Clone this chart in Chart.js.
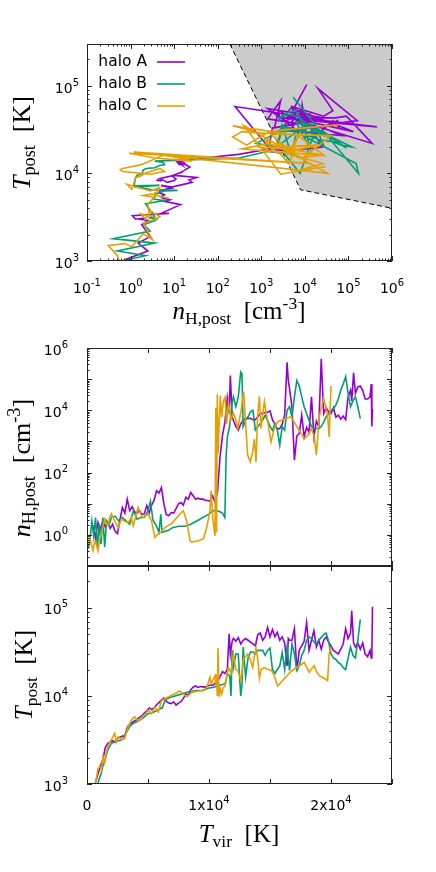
<!DOCTYPE html>
<html>
<head>
<meta charset="utf-8">
<script src="https://cdn.jsdelivr.net/npm/chart.js@4.4.1/dist/chart.umd.min.js"></script>
<style>
html,body{margin:0;padding:0;background:#fff;}
body{width:436px;height:872px;position:relative;overflow:hidden;}
canvas{position:absolute;left:0;}
.ttl{position:absolute;font-family:'Liberation Serif','Times New Roman',serif;font-size:25px;line-height:1;white-space:nowrap;color:#000;}
.ttl sub{font-size:70%;vertical-align:-0.3em;line-height:0;}
.ttl sup{font-size:70%;vertical-align:0.55em;line-height:0;}
.rot{transform:translate(-50%,-50%) rotate(-90deg);}
.hor{transform:translate(-50%,-50%);}
</style>
</head>
<body>
<canvas id="c1" width="436" height="330" style="top:0px"></canvas>
<canvas id="c2" width="436" height="240" style="top:330px"></canvas>
<canvas id="c3" width="436" height="312" style="top:560px"></canvas>

<div class="ttl rot" style="left:22px;top:143px;font-size:26px"><i>T</i><sub>post</sub>&nbsp;&nbsp;[K]</div>
<div class="ttl hor" style="left:239px;top:310px"><i>n</i><sub>H,post</sub>&nbsp;&nbsp;[cm<sup>-3</sup>]</div>
<div class="ttl rot" style="left:22px;top:468px;font-size:26px"><i>n</i><sub>H,post</sub>&nbsp;&nbsp;[cm<sup>-3</sup>]</div>
<div class="ttl rot" style="left:23px;top:675px"><i>T</i><sub>post</sub>&nbsp;&nbsp;[K]</div>
<div class="ttl hor" style="left:239px;top:833px"><i>T</i><sub>vir</sub>&nbsp;&nbsp;[K]</div>

<script>
// halo A : Tvir [K], nH,post [cm^-3], Tpost [K]
const tvirA = [500,700,900,1100,1300,1500,1700,1900,2100,2300,2500,2700,2900,3100,3300,3500,3700,3900,4100,4300,
  4500,4700,4900,5100,5300,5500,5700,5900,6100,6300,6500,6700,6900,7100,7300,7500,7700,7900,8100,8300,
  8500,8700,8900,9100,9300,9500,9700,9900,10100,10300,10500,10700,10900,11100,11300,11500,11650,11750,11900,12000,
  12200,12400,12600,12800,13000,13200,13400,13600,13800,14000,14200,14400,14600,14800,15000,15200,15400,15600,15800,16000,
  16200,16400,16500,16600,16800,17000,17200,17400,17600,17800,18000,18200,18400,18600,18800,19000,19200,19400,19600,19800,
  20000,20200,20400,20600,20800,21000,21200,21400,21600,21700,21850,22000,22200,22400,22600,22800,23000,23200,23300,23350,23400];
const nA = [2.0,0.8,2.5,1.5,2.8,1.8,2.5,1.6,2.2,1.3,1.1,3.0,7.6,5.0,14,6,8,5.5,5.0,6,
  4.5,4.8,8.7,5,9,13,26,22,33,10,4.5,4.1,5.2,5.0,7,10,11,9,16,14,
  23,18,14,15,14,14,13,12.6,12,18,11,25,300,1500,4000,2.5e4,8000,1.3e5,6000,4800,
  3000,2300,3600,4800,5500,5500,5500,5000,5000,6200,7800,8000,8500,8700,9500,5000,3600,2500,2600,3600,
  7000,3.5e5,9e4,5e4,1.3e4,250,1500,1800,7000,1400,2800,2000,2.7e4,1400,4500,3000,4.5e5,7800,1.2e4,9000,
  7800,1.2e4,6000,7000,5200,6500,5000,2.7e4,4.4e4,2e4,1.6e5,3.5e4,5.6e4,6e4,4.4e4,2.3e4,2.3e4,2.7e4,7e4,3000,1.1e4];
const tA = [900,1050,1300,1600,1900,2600,2900,3000,3100,3000,3300,3400,3500,3500,4400,4800,5000,5200,5400,5700,
  6000,6400,6800,7300,7000,7300,7900,8400,9000,9500,8700,8300,8200,8600,7900,8300,8600,9400,10500,10200,
  11800,12600,13000,12500,12800,12700,12600,13000,13300,13200,14000,14500,16500,19000,18000,20000,51000,30000,42000,45000,
  42000,46000,39000,43000,45000,43000,41000,39000,37000,50000,52000,43000,47000,60000,47000,57000,47000,53000,43000,47000,
  40000,22000,45000,43000,43000,58000,19500,33000,37000,42000,68000,33000,43000,55000,36000,43000,34000,43000,47000,41000,
  37000,33000,31600,30000,34000,39000,58000,45000,52000,93000,40000,36000,40000,34000,40000,30000,28000,33000,27000,31000,103000];

// halo B
const tvirB = [0,200,400,550,700,850,1000,1150,1300,1450,1600,1800,2000,2300,2600,2900,3200,3500,3800,4100,
  4400,4700,5000,5200,5400,5700,5900,6050,6150,6400,6700,7000,7500,8000,8500,9000,9500,10000,10300,10600,
  10900,11100,11300,11400,11500,11700,11800,11900,12000,12200,12400,12600,12700,12800,13000,13200,13400,13600,13800,14000,
  14200,14400,14600,14800,15000,15200,15400,15600,15800,16000,16200,16400,16600,16800,17000,17200,17400,17600,17800,18000,
  18200,18400,18600,18800,19000,19200,19400,19600,19800,20000,20200,20400,20600,20800,21000,21200,21400,21600,21800,22000,22200,22400];
const nB = [0.33,0.5,2.8,0.9,3.6,0.4,2.2,0.5,3.6,0.4,2.8,2.0,3.6,4.0,2.8,3.6,2.8,2.2,6,3.2,
  3.6,3.6,6,12,3.0,1.9,1.2,4.6,1.2,1.3,1.4,1.7,1.9,1.9,2.2,2.8,3.6,4.6,6,6,
  5.5,5,3.6,310,1350,3300,7800,1.8e4,2.7e4,1.3e4,2.7e4,1.7e5,1.5e5,3000,4800,6200,9000,1e4,2300,3000,
  3700,4800,6900,4800,3000,2300,3700,2300,760,3000,2300,1e4,1.3e4,6200,2.7e4,9e4,6e4,2.7e4,1.3e4,7800,
  4800,3000,2600,2600,2600,3000,4200,6200,7800,1e4,1.1e4,1.5e4,2.3e4,4.4e4,7e4,1.2e5,3.5e4,1.3e4,2e4,2.7e4,1.3e4,5400];
const tB = [500,600,700,800,900,950,1150,1300,1600,1800,2200,2600,2900,3000,3100,3200,3800,4500,4900,5100,
  5400,5800,6300,6400,6500,6800,7000,7300,7200,8900,9500,9800,10300,10800,11300,11500,11600,12300,12500,12800,
  13300,13500,13800,15000,17800,17000,10000,33000,21000,30000,30000,10000,13000,36000,16500,27000,31600,31600,30000,33000,
  33000,33000,29000,33000,35000,20000,18000,20000,22000,31000,20000,36000,19500,39000,30000,19500,22000,29000,33000,43000,
  47000,45000,41000,39000,43000,46000,50000,52000,42000,30000,27000,26000,24000,23000,21000,20000,27000,36000,29000,27000,43000,74000];

// halo C
const tvirC = [80,220,360,490,630,770,900,1040,1180,1320,1450,1590,1730,1860,2000,2270,2400,2550,2820,3100,
  3370,3640,3780,3920,4190,4470,4600,4740,5010,5290,5560,5840,6110,6380,6930,7620,7890,8170,8440,8580,
  9120,9540,9810,10080,10170,10300,10490,10560,10620,10680,10740,10820,10930,11040,11180,11320,11450,11590,11800,12000,
  12200,12350,12620,12840,13030,13170,13390,13580,13720,13850,13990,14130,14260,14540,14810,15080,15350,15630,16720,17810,
  18220,18360,18630,18800,19040,19400,19720,19850,20000];
const nC = [0.5,0.83,0.5,0.31,0.58,0.5,0.31,0.74,1.07,1.95,3.2,2.3,2.0,3.6,4.7,2.8,2.2,1.7,3.2,2.7,
  2.5,3.6,1.95,3.0,7.6,4.0,3.6,4.0,4.7,2.8,0.83,1.07,1.3,1.7,2.3,4.7,6.0,2.8,0.65,0.58,
  0.65,0.74,1.7,6.0,26,3.6,0.93,1.2e4,1.2,3.3e4,400,2800,3e4,5900,2e4,2.6e4,3600,1.8e4,5000,8000,
  5000,2600,9000,4e4,2600,360,220,460,1200,220,7000,2.8e4,2600,1.9e4,4300,950,2600,4300,6200,1200,
  1800,2600,1500,360,6200,2.4e4,7000,1400,6e4];
const tC = [500,600,700,800,950,1150,1500,1580,1450,2050,1750,2300,2700,3000,3200,3750,3000,3450,3200,3300,
  4500,5300,5600,5800,5200,5600,6000,6100,6900,6300,7500,6600,8900,9300,10200,11400,10500,9800,10500,11000,
  11400,11500,12500,16300,13800,15000,17000,13000,17500,10000,35000,9800,12000,10500,12500,13000,17000,21000,18000,30000,
  20000,19600,15000,27000,28000,30000,26000,21000,28000,35000,27000,16000,20000,21000,20000,19800,17000,13000,19000,24000,
  18600,20000,22000,19000,17000,16000,15000,30000,36000];

// shaded region boundary (top panel)
const regionN = [190, 8000, 1e6];
const regionT = [3e5, 6500, 4000];

const haloNames = ['halo A', 'halo B', 'halo C'];
const haloColors = ['#9400d3', '#009e73', '#e69f00'];

// tick labels
const topXTicks = [0.1, 1, 10, 100, 1e3, 1e4, 1e5, 1e6];
const topXExps = ['-1', '0', '1', '2', '3', '4', '5', '6'];
const topYTicks = [1e3, 1e4, 1e5];
const topYExps = ['3', '4', '5'];
const midYMajor = [0.1, 1, 10, 100, 1e3, 1e4, 1e5, 1e6];
const midYTicks = [1, 100, 1e4, 1e6];
const midYExps = ['0', '2', '4', '6'];
const tvirTicks = [0, 5000, 10000, 15000, 20000, 25000];
const botXTicks = [0, 10000, 20000];
const botXBase = ['0', '1x10', '2x10'];
const botXExps = ['', '4', '4'];
const botYTicks = [1e3, 1e4, 1e5];
const botYExps = ['3', '4', '5'];

const SANS = "'DejaVu Sans', sans-serif";

function minorLog(lo, hi) {
  const out = [];
  for (let e = Math.floor(Math.log10(lo)); e <= Math.ceil(Math.log10(hi)); e++)
    for (let m = 2; m <= 9; m++) { const v = m * Math.pow(10, e); if (v > lo && v < hi) out.push(v); }
  return out;
}

function drawLabel(ctx, base, exp, x, y, align) {
  ctx.font = '14px ' + SANS;
  const wb = ctx.measureText(base).width;
  ctx.font = '10px ' + SANS;
  const we = exp ? ctx.measureText(exp).width : 0;
  const x0 = align === 'right' ? x - wb - we : x - (wb + we) / 2;
  ctx.font = '14px ' + SANS;
  ctx.fillText(base, x0, y);
  if (exp) { ctx.font = '10px ' + SANS; ctx.fillText(exp, x0 + wb, y - 7); }
}

// border, inward ticks, tick labels, legend
const framePlugin = {
  id: 'frame',
  afterDatasetsDraw(chart, args, o) {
    const { ctx, chartArea: a } = chart;
    const xs = chart.scales.x, ys = chart.scales.y;
    ctx.save();
    ctx.strokeStyle = '#222';
    ctx.lineWidth = 1;
    ctx.beginPath();
    const tx = (v, len) => { const p = Math.round(xs.getPixelForValue(v)) + 0.5;
      ctx.moveTo(p, a.bottom); ctx.lineTo(p, a.bottom - len); ctx.moveTo(p, a.top); ctx.lineTo(p, a.top + len); };
    const ty = (v, len) => { const p = Math.round(ys.getPixelForValue(v)) + 0.5;
      ctx.moveTo(a.left, p); ctx.lineTo(a.left + len, p); ctx.moveTo(a.right, p); ctx.lineTo(a.right - len, p); };
    o.xMajor.forEach(v => tx(v, 5));
    (o.xMinor || []).forEach(v => tx(v, 2.5));
    o.yMajor.forEach(v => ty(v, 5));
    (o.yMinor || []).forEach(v => ty(v, 2.5));
    ctx.stroke();
    ctx.strokeRect(a.left + 0.5, a.top + 0.5, a.right - a.left - 1, a.bottom - a.top - 1);

    ctx.fillStyle = '#000';
    ctx.textBaseline = 'alphabetic';
    ctx.textAlign = 'left';
    (o.xLabels || []).forEach(l => drawLabel(ctx, l.base, l.exp, xs.getPixelForValue(l.v), a.bottom + o.xLabelDy, 'center'));
    (o.yLabels || []).forEach(l => drawLabel(ctx, l.base, l.exp, o.yLabelX, ys.getPixelForValue(l.v) + o.yLabelDy, 'right'));

    if (o.legend) {
      ctx.font = '15.5px ' + SANS;
      ctx.textBaseline = 'middle';
      ctx.textAlign = 'right';
      haloNames.forEach((name, i) => {
        const y = 62 + 22 * i;
        ctx.fillStyle = '#000';
        ctx.fillText(name, 147, y);
        ctx.strokeStyle = haloColors[i];
        ctx.lineWidth = 1.6;
        ctx.beginPath(); ctx.moveTo(157, y); ctx.lineTo(185, y); ctx.stroke();
      });
    }
    ctx.restore();
  }
};

const pairs = (xs, ys) => xs.map((x, i) => ({ x: x, y: ys[i] }));

function haloSets(xA, xB, xC, yA, yB, yC) {
  return [
    { data: pairs(xA, yA), borderColor: haloColors[0], borderWidth: 1.6, fill: false, order: 3 },
    { data: pairs(xB, yB), borderColor: haloColors[1], borderWidth: 1.6, fill: false, order: 2 },
    { data: pairs(xC, yC), borderColor: haloColors[2], borderWidth: 1.6, fill: false, order: 1 }
  ];
}

function makeChart(id, xType, yType, xr, yr, pad, datasets, frame) {
  return new Chart(document.getElementById(id), {
    type: 'line',
    data: { datasets: datasets },
    options: {
      responsive: false,
      animation: false,
      devicePixelRatio: 1,
      layout: { padding: pad },
      scales: {
        x: { type: xType, min: xr[0], max: xr[1], display: false },
        y: { type: yType, min: yr[0], max: yr[1], display: false }
      },
      elements: { point: { radius: 0 }, line: { tension: 0 } },
      plugins: { legend: { display: false }, tooltip: { enabled: false }, frame: frame }
    },
    plugins: [framePlugin]
  });
}

// top: Tpost vs nH,post
const topSets = [{
  data: pairs(regionN, regionT), borderColor: '#000', borderWidth: 1, borderDash: [5, 3],
  backgroundColor: '#cbcbcb', fill: 'end', order: 10
}].concat(haloSets(nA, nB, nC, tA, tB, tC));

makeChart('c1', 'logarithmic', 'logarithmic', [0.1, 1e6], [1e3, 3e5],
  { left: 87, right: 44, top: 44, bottom: 69 }, topSets, {
    xMajor: topXTicks, xMinor: minorLog(0.1, 1e6), yMajor: topYTicks, yMinor: minorLog(1e3, 3e5),
    xLabels: topXTicks.map((v, i) => ({ v: v, base: '10', exp: topXExps[i] })), xLabelDy: 32,
    yLabels: topYTicks.map((v, i) => ({ v: v, base: '10', exp: topYExps[i] })), yLabelX: 79, yLabelDy: 7,
    legend: true
  });

// middle: nH,post vs Tvir
makeChart('c2', 'linear', 'logarithmic', [0, 25000], [0.1, 1e6],
  { left: 87, right: 44, top: 18, bottom: 4 }, haloSets(tvirA, tvirB, tvirC, nA, nB, nC), {
    xMajor: tvirTicks, yMajor: midYMajor, yMinor: minorLog(0.1, 1e6),
    yLabels: midYTicks.map((v, i) => ({ v: v, base: '10', exp: midYExps[i] })), yLabelX: 68, yLabelDy: 6.5
  });

// bottom: Tpost vs Tvir
makeChart('c3', 'linear', 'logarithmic', [0, 25000], [1e3, 3e5],
  { left: 87, right: 44, top: 6, bottom: 88 }, haloSets(tvirA, tvirB, tvirC, tA, tB, tC), {
    xMajor: tvirTicks, yMajor: botYTicks, yMinor: minorLog(1e3, 3e5),
    xLabels: botXTicks.map((v, i) => ({ v: v, base: botXBase[i], exp: botXExps[i] })), xLabelDy: 26,
    yLabels: botYTicks.map((v, i) => ({ v: v, base: '10', exp: botYExps[i] })), yLabelX: 68, yLabelDy: 6.5
  });
</script>
</body>
</html>
